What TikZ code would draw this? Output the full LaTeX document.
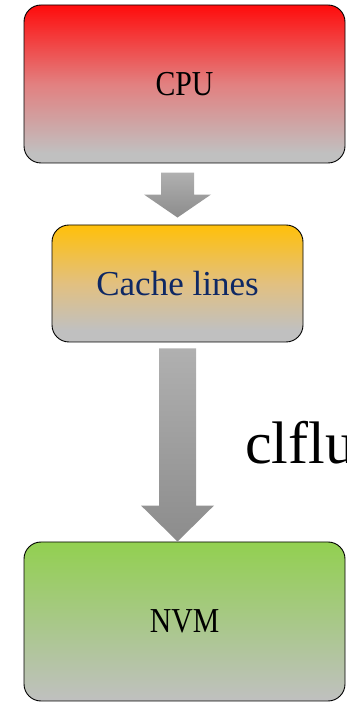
\documentclass[tikz,border=0pt]{standalone}
\usepackage{fontspec}
\usepackage{graphicx}
\setmainfont{Liberation Serif}
\usetikzlibrary{calc}
\definecolor{boxgray}{RGB}{192,192,192}
\definecolor{cpured}{RGB}{255,12,12}
\definecolor{cpumid}{RGB}{226,128,128}
\definecolor{cacheorange}{RGB}{255,192,10}
\definecolor{cachemid}{RGB}{226,192,128}
\definecolor{nvmgreen}{RGB}{146,208,80}
\definecolor{nvmmid}{RGB}{168,200,136}
\definecolor{navytext}{RGB}{14,40,100}
\definecolor{arrowtop}{RGB}{176,176,176}
\definecolor{arrowbot}{RGB}{140,140,140}
\pgfdeclareverticalshading{cpushade}{100bp}{color(0bp)=(boxgray); color(28bp)=(boxgray); color(50bp)=(cpumid); color(75bp)=(cpured); color(100bp)=(cpured)}
\pgfdeclareverticalshading{cacheshade}{100bp}{color(0bp)=(boxgray); color(30bp)=(boxgray); color(50bp)=(cachemid); color(75bp)=(cacheorange); color(100bp)=(cacheorange)}
\pgfdeclareverticalshading{nvmshade}{100bp}{color(0bp)=(boxgray); color(25bp)=(boxgray); color(50bp)=(nvmmid); color(75bp)=(nvmgreen); color(100bp)=(nvmgreen)}
\tikzset{
  unitbox/.style={draw=black, line width=0.9pt, rounded corners=17pt, inner sep=0pt,
    font=\fontsize{35}{42}\selectfont},
  blockarrow/.style={top color=arrowtop, bottom color=arrowbot, draw=none}
}
\begin{document}
\begin{tikzpicture}[x=1pt,y=1pt]
\useasboundingbox (0,0) rectangle (346,706);
\node[unitbox, shade, shading=cpushade, minimum width=321pt, minimum height=158pt] (cpu) at (184.5,622) {\scalebox{0.85}[1]{CPU}};
\node[unitbox, shade, shading=cacheshade, minimum width=251pt, minimum height=117pt, text=navytext] (cache) at (177.5,422.5) {Cache lines};
\node[unitbox, shade, shading=nvmshade, minimum width=321pt, minimum height=159pt] (nvm) at (184.5,84.5) {\scalebox{0.85}[1]{NVM}};
% arrow CPU -> cache lines
\path[blockarrow] ($(cache.north)+(-16.5,52)$) -- ($(cache.north)+(16.5,52)$) -- ($(cache.north)+(16.5,30)$) -- ($(cache.north)+(33.5,30)$) -- ($(cache.north)+(0,7)$) -- ($(cache.north)+(-33.5,30)$) -- ($(cache.north)+(-16.5,30)$) -- cycle;
% arrow cache lines -> NVM
\coordinate (t2) at (cache.south |- nvm.north);
\path[blockarrow] ($(cache.south)+(-18.5,-6)$) -- ($(cache.south)+(18.5,-6)$) -- ($(t2)+(18.5,36)$) -- ($(t2)+(36.5,36)$) -- (t2) -- ($(t2)+(-36.5,36)$) -- ($(t2)+(-18.5,36)$) -- cycle;
\node[anchor=base west, inner sep=0pt, font=\fontsize{60}{72}\selectfont] (lbl) at (245,242) {clflush};
\end{tikzpicture}
\end{document}
